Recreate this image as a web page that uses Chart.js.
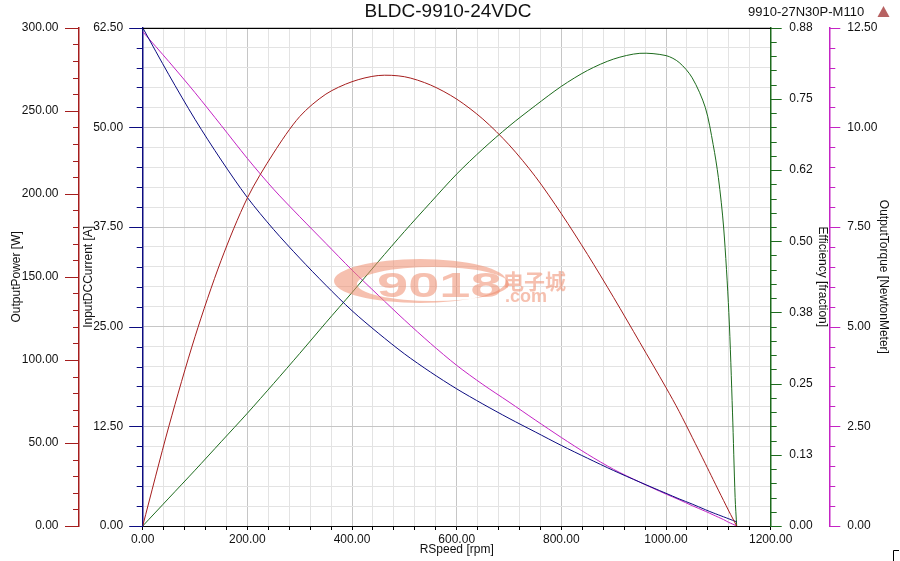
<!DOCTYPE html>
<html>
<head>
<meta charset="utf-8">
<script src="https://cdn.jsdelivr.net/npm/chart.js@4"></script>
<style>
    html, body { margin: 0; padding: 0; background: #fff; }
</style>
</head>
<body>
<canvas id="chart" width="900" height="561"></canvas>
<script>
// values
const rpm = [0, 50, 100, 150, 200, 250, 300, 350, 400, 450, 500, 550, 600, 650, 700, 750, 800, 850, 900, 950, 1000, 1025, 1050, 1075, 1090, 1100, 1110, 1120, 1127, 1132, 1135];
const outputPower = [0, 60, 114, 160, 197.5, 224.5, 246.5, 260, 267.5, 271.2, 270.5, 265.5, 257, 245, 229.5, 210.5, 188, 163.5, 137.5, 110.5, 83.3, 69, 53.4, 37.6, 28, 21.6, 15.3, 9, 4.8, 1.8, 0];
const inputCurrent = [62.5, 56.6, 51.0, 45.9, 41.2, 37.2, 33.6, 30.2, 27.0, 24.2, 21.6, 19.3, 17.2, 15.3, 13.5, 11.8, 10.1, 8.5, 6.95, 5.5, 4.1, 3.4, 2.75, 2.05, 1.65, 1.4, 1.15, 0.9, 0.72, 0.6, 0.5];
const efficiency = [0, 0.049, 0.098, 0.148, 0.198, 0.25, 0.303, 0.357, 0.41, 0.464, 0.517, 0.568, 0.618, 0.662, 0.702, 0.738, 0.772, 0.80, 0.82, 0.83, 0.826, 0.814, 0.787, 0.735, 0.67, 0.612, 0.525, 0.375, 0.2, 0.05, 0];
const outputTorque = [12.4, 11.65, 10.87, 10.05, 9.22, 8.45, 7.76, 7.09, 6.42, 5.79, 5.17, 4.58, 4.03, 3.55, 3.11, 2.66, 2.22, 1.8, 1.42, 1.1, 0.8, 0.66, 0.51, 0.37, 0.28, 0.22, 0.16, 0.09, 0.05, 0.02, 0];

const effTickLabels = ['0.00', '0.13', '0.25', '0.38', '0.50', '0.62', '0.75', '0.88'];
const chartTitle = 'BLDC-9910-24VDC';
const modelLabel = '9910-27N30P-M110';

const RED = '#a51d1d';
const NAVY = '#0c0c80';
const GREEN = '#1d6b1d';
const MAGENTA = '#c424c4';

Chart.defaults.font.family = "'Liberation Sans', Arial, sans-serif";
Chart.defaults.font.size = 12;
Chart.defaults.color = '#111';

const points = (ys) => rpm.map((x, i) => ({ x, y: ys[i] }));
const isMultiple = (v, step) => Math.abs(v / step - Math.round(v / step)) < 1e-6;

// short/long tick marks on the four value axes
const tickSpecs = [
    { id: 'yPower', minor: 10, every: 5, side: 'left', color: RED, majorLen: 14, minorLen: 6 },
    { id: 'yCurrent', minor: 2.5, every: 5, side: 'left', color: NAVY, majorLen: 13.5, minorLen: 6 },
    { id: 'yEff', minor: 0.025, every: 5, side: 'right', color: GREEN, majorLen: 11, minorLen: 6 },
    { id: 'yTorque', minor: 0.5, every: 5, side: 'right', color: MAGENTA, majorLen: 11, minorLen: 6 }
];

const axisMarks = {
    id: 'axisMarks',
    afterDraw(c) {
        const ctx = c.ctx;
        tickSpecs.forEach(t => {
            const s = c.scales[t.id];
            const x0 = t.side === 'left' ? s.right : s.left;
            const dir = t.side === 'left' ? -1 : 1;
            const n = Math.round((s.max - s.min) / t.minor);
            ctx.save();
            ctx.strokeStyle = t.color;
            ctx.lineWidth = 1;
            for (let i = 0; i <= n; i++) {
                const y = Math.round(s.getPixelForValue(s.min + i * t.minor)) + 0.5;
                const len = i % t.every === 0 ? t.majorLen : t.minorLen;
                ctx.beginPath();
                ctx.moveTo(x0, y);
                ctx.lineTo(x0 + dir * len, y);
                ctx.stroke();
            }
            ctx.restore();
        });

        // top frame line
        const a = c.chartArea;
        ctx.save();
        ctx.strokeStyle = '#000';
        ctx.lineWidth = 1;
        ctx.beginPath();
        ctx.moveTo(a.left, Math.round(a.top) + 0.5);
        ctx.lineTo(a.right, Math.round(a.top) + 0.5);
        ctx.stroke();

        // header texts
        ctx.fillStyle = '#111';
        ctx.textBaseline = 'middle';
        ctx.font = "19px 'Liberation Sans', Arial, sans-serif";
        ctx.textAlign = 'center';
        ctx.fillText(chartTitle, 448, 12);
        ctx.font = "13px 'Liberation Sans', Arial, sans-serif";
        ctx.textAlign = 'left';
        ctx.fillText(modelLabel, 748, 12);

        // little warning triangle
        ctx.fillStyle = 'rgba(170, 70, 70, 0.85)';
        ctx.beginPath();
        ctx.moveTo(883.5, 6);
        ctx.lineTo(889.5, 17);
        ctx.lineTo(877.5, 17);
        ctx.closePath();
        ctx.fill();

        // corner mark
        ctx.strokeStyle = '#000';
        ctx.beginPath();
        ctx.moveTo(893.5, 561);
        ctx.lineTo(893.5, 550.5);
        ctx.lineTo(899, 550.5);
        ctx.stroke();
        ctx.restore();
    }
};

const watermark = {
    id: 'watermark',
    afterDatasetsDraw(c) {
        const ctx = c.ctx;
        ctx.save();
        ctx.fillStyle = 'rgba(238, 140, 110, 0.55)';
        ctx.beginPath();
        ctx.ellipse(420, 281, 86, 22, 0, 0, Math.PI * 2);
        ctx.ellipse(433, 284, 76, 17, 0, 0, Math.PI * 2);
        ctx.fill('evenodd');

        ctx.save();
        ctx.translate(377, 297);
        ctx.scale(1.6, 1);
        ctx.font = "bold 35px 'Liberation Sans', Arial, sans-serif";
        ctx.textAlign = 'left';
        ctx.textBaseline = 'alphabetic';
        ctx.fillText('9018', 0, 0);
        ctx.restore();

        ctx.font = "bold 21px 'Noto Sans CJK SC', sans-serif";
        ctx.textBaseline = 'alphabetic';
        ctx.fillText('电子城', 503, 289);
        ctx.font = "bold 18px 'Liberation Sans', Arial, sans-serif";
        ctx.fillText('.com', 505, 302);
        ctx.restore();
    }
};

const line = (label, ys, color, axis) => ({
    label,
    data: points(ys),
    yAxisID: axis,
    borderColor: color,
    borderWidth: 1,
    pointRadius: 0,
    fill: false,
    tension: 0.3
});

new Chart(document.getElementById('chart'), {
    type: 'line',
    data: {
        datasets: [
            line('OutputPower', outputPower, RED, 'yPower'),
            line('InputDCCurrent', inputCurrent, NAVY, 'yCurrent'),
            line('Efficiency', efficiency, GREEN, 'yEff'),
            line('OutputTorque', outputTorque, MAGENTA, 'yTorque')
        ]
    },
    options: {
        responsive: false,
        animation: false,
        layout: { padding: { top: 27.3, left: 0, right: 0, bottom: 0 } },
        plugins: { legend: { display: false }, tooltip: { enabled: false } },
        scales: {
            x: {
                type: 'linear',
                position: 'bottom',
                min: 0,
                max: 1200,
                ticks: {
                    stepSize: 40,
                    autoSkip: false,
                    maxRotation: 0,
                    padding: 2,
                    callback: v => isMultiple(v, 200) ? v.toFixed(2) : ''
                },
                grid: {
                    color: ctx => ctx.tick && isMultiple(ctx.tick.value, 200) ? '#c6c6c6' : '#e3e3e3',
                    tickColor: '#000',
                    tickLength: 4
                },
                border: { color: '#000', width: 1 },
                title: { display: true, text: 'RSpeed [rpm]', padding: { top: 0, bottom: 4 } },
                afterFit: s => { s.height = 35; }
            },
            yPower: {
                position: 'left',
                weight: 2,
                min: 0,
                max: 300,
                ticks: { stepSize: 50, padding: 20.5, callback: v => v.toFixed(2) },
                grid: { drawOnChartArea: false, drawTicks: false },
                border: { color: RED, width: 1.5 },
                title: { display: true, text: 'OutputPower [W]', padding: { top: 9.5, bottom: 0 } },
                afterFit: s => { s.width = 79; }
            },
            yCurrent: {
                position: 'left',
                weight: 1,
                min: 0,
                max: 62.5,
                ticks: {
                    stepSize: 2.5,
                    autoSkip: false,
                    padding: 19.5,
                    callback: v => isMultiple(v, 12.5) ? v.toFixed(2) : ''
                },
                grid: {
                    color: ctx => ctx.tick && isMultiple(ctx.tick.value, 12.5) ? '#c6c6c6' : '#e3e3e3',
                    drawTicks: false
                },
                border: { color: NAVY, width: 1.5 },
                title: { display: true, text: 'InputDCCurrent [A]', padding: { top: 2, bottom: 0 } },
                afterFit: s => { s.width = 63.7; }
            },
            yEff: {
                position: 'right',
                weight: 1,
                min: 0,
                max: 0.875,
                ticks: { stepSize: 0.125, padding: 18.6, callback: v => effTickLabels[Math.round(v / 0.125)] },
                grid: { drawOnChartArea: false, drawTicks: false },
                border: { color: GREEN, width: 1.5 },
                title: { display: true, text: 'Efficiency [fraction]', padding: { top: 0, bottom: 0 } },
                afterFit: s => { s.width = 58.6; }
            },
            yTorque: {
                position: 'right',
                weight: 2,
                min: 0,
                max: 12.5,
                ticks: { stepSize: 2.5, padding: 18, callback: v => v.toFixed(2) },
                grid: { drawOnChartArea: false, drawTicks: false },
                border: { color: MAGENTA, width: 1.5 },
                title: { display: true, text: 'OutputTorque [NewtonMeter]', padding: { top: 9, bottom: 0 } },
                afterFit: s => { s.width = 70.7; }
            }
        }
    },
    plugins: [watermark, axisMarks]
});
</script>
</body>
</html>
